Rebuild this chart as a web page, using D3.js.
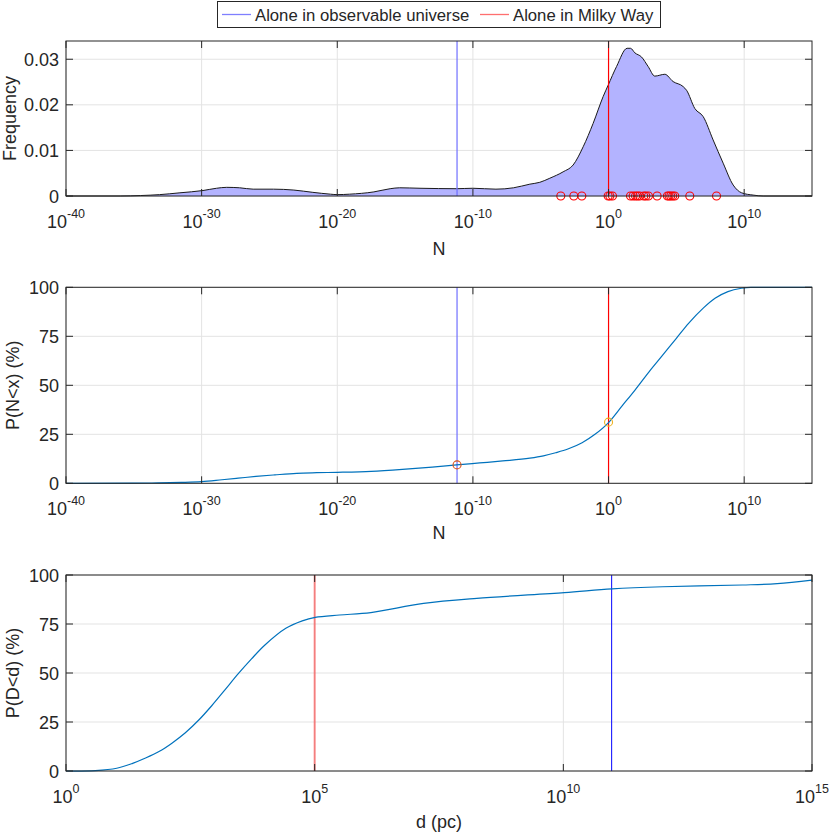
<!DOCTYPE html>
<html><head><meta charset="utf-8">
<script src="https://cdn.jsdelivr.net/npm/d3@7/dist/d3.min.js"></script>
<style>
html,body{margin:0;padding:0;background:#fff;}
text{font-family:"Liberation Sans",Arial,Helvetica,sans-serif;fill:#262626;}
</style></head><body>
<svg id="chart" width="830" height="834"></svg>
<script>
// ---------- DATA ----------
// Panel 1: frequency density of N (x as log10 N)
const densityLog10N = [-40,-36,-34.5,-33.1,-31.6,-29.9,-28.9,-28.15,-27.2,-26.2,-24.7,-23.2,-21.8,-20.5,-20.0,-19.1,-17.3,-16.1,-15.4,-13.9,-11.2,-10.0,-8.3,-7.0,-5.8,-5.07,-4.33,-3.35,-2.61,-1.87,-1.14,-0.40,-0.03,0.59,1.37,1.62,1.94,2.43,2.92,3.41,4.15,4.76,5.50,5.75,6.36,6.98,7.71,8.45,9.19,9.81,10.66,11.4,15];
const densityFreq    = [0,0,0.0001,0.0003,0.0007,0.0012,0.0017,0.0019,0.0018,0.0015,0.0015,0.0013,0.0008,0.0004,0.0003,0.0004,0.0009,0.0016,0.0018,0.0017,0.0016,0.0017,0.0015,0.0018,0.0026,0.0030,0.0039,0.0053,0.0068,0.0108,0.0159,0.0218,0.0243,0.0284,0.0324,0.0324,0.0314,0.0305,0.0284,0.0263,0.0267,0.0251,0.0240,0.0232,0.0192,0.0174,0.0123,0.0072,0.0024,0.0007,0.0002,0,0];
// literature estimates (red circles, log10 N)
const estimatesLog10N = [-3.52,-2.56,-1.97,-0.03,0.10,0.29,1.62,1.81,1.99,2.14,2.30,2.60,2.75,2.94,3.58,4.34,4.46,4.59,4.73,4.88,5.99,7.96];
// Panel 2: CDF of N
const cdfNLog10 = [-40,-35,-33.2,-31.5,-30.0,-28.5,-27.3,-26,-24.6,-23.0,-21.5,-20.0,-17.5,-15.2,-13,-11.2,-9.5,-7.8,-5.8,-4.8,-3.9,-3,-1.95,-1,0,1,1.95,3,3.9,5,5.9,7,7.85,8.8,9.8,10.5,15];
const cdfNPct   = [0,0.05,0.2,0.45,0.85,1.8,2.6,3.5,4.3,5.1,5.4,5.6,6.1,7.1,8.3,9.4,10.4,11.4,12.8,14,15.6,17.5,20.7,25,31,39.5,47.6,57,64.6,74,81.6,89.5,94.4,97.8,99.5,100,100];
// Panel 3: CDF of distance d (pc)
const cdfDLog10 = [0,0.59,1.02,1.34,1.6,1.87,2.13,2.4,2.67,2.93,3.2,3.46,3.73,4.0,4.42,4.75,5.01,5.5,6.13,7.19,8.26,10.02,10.98,12,13.6,14.3,15];
const cdfDPct   = [0,0.2,1.4,3.9,6.6,9.9,14.2,19.5,26,33.3,41.5,49.5,57.2,64.3,72.8,76.6,78.4,79.6,80.8,85.5,88.1,91,92.9,94,94.9,95.6,97.4];
// thresholds
const aloneUniverseLog10N = -11.17, aloneMilkyWayLog10N = 0;
const pAloneUniverse = 9.4, pAloneMilkyWay = 31.2;
const milkyWayLog10d = 5, universeLog10d = 10.97;
// ticks
const nTicksLog10 = [-40,-30,-20,-10,0,10];
const dTicksLog10 = [0,5,10,15];
const freqTicks = [0,0.01,0.02,0.03];
const pctTicks = [0,25,50,75,100];
const legendLabels = ["Alone in observable universe","Alone in Milky Way"];

// ---------- DRAW ----------
const svg = d3.select("#chart");
const L = 66, R = 812;
const axisCol = "#262626", gridCol = "#e3e3e3", FS = 18, FSUP = 12.5, FLEG = 16.7;
const p10 = v => Math.pow(10, v);
const smooth = d3.curveCatmullRom.alpha(0.5);

function panel(top, bottom, xDom, yDom, xTicks, yTicks, yFmt, xLabel, yLabel){
  const x = d3.scaleLog().domain(xDom).range([L, R]);
  const y = d3.scaleLinear().domain(yDom).range([bottom, top]);
  const g = svg.append("g");
  const grid = g.append("g");
  xTicks.forEach(t => grid.append("line").attr("x1", x(p10(t))).attr("x2", x(p10(t)))
    .attr("y1", top).attr("y2", bottom).attr("stroke", gridCol).attr("stroke-width", 1));
  yTicks.forEach(t => grid.append("line").attr("x1", L).attr("x2", R)
    .attr("y1", y(t)).attr("y2", y(t)).attr("stroke", gridCol).attr("stroke-width", 1));
  const content = g.append("g");
  const frame = g.append("g");
  frame.append("rect").attr("x", L).attr("y", top).attr("width", R-L).attr("height", bottom-top)
    .attr("fill", "none").attr("stroke", axisCol).attr("stroke-width", 1);
  xTicks.forEach(t => {
    const xx = x(p10(t));
    frame.append("line").attr("x1", xx).attr("x2", xx).attr("y1", bottom).attr("y2", bottom-7).attr("stroke", axisCol);
    frame.append("line").attr("x1", xx).attr("x2", xx).attr("y1", top).attr("y2", top+7).attr("stroke", axisCol);
    const tx = frame.append("text").attr("x", xx).attr("y", bottom+32).attr("text-anchor", "middle").attr("font-size", FS);
    tx.append("tspan").text("10");
    tx.append("tspan").attr("dy", -10).attr("font-size", FSUP).text(String(t));
  });
  yTicks.forEach(t => {
    const yy = y(t);
    frame.append("line").attr("x1", L).attr("x2", L+7).attr("y1", yy).attr("y2", yy).attr("stroke", axisCol);
    frame.append("line").attr("x1", R).attr("x2", R-7).attr("y1", yy).attr("y2", yy).attr("stroke", axisCol);
    frame.append("text").attr("x", L-7).attr("y", yy+6.5).attr("text-anchor", "end").attr("font-size", FS).text(yFmt(t));
  });
  frame.append("text").attr("x", (L+R)/2).attr("y", bottom+xLabel.dy).attr("text-anchor", "middle").attr("font-size", FS).text(xLabel.text);
  frame.append("text").attr("transform", `translate(${yLabel.x},${(top+bottom)/2}) rotate(-90)`)
    .attr("text-anchor", "middle").attr("font-size", FS).text(yLabel.text);
  return {x, y, content, top, bottom};
}

// Panel 1
const P1 = panel(41, 196, [1e-40, 1e15], [0, 0.034], nTicksLog10, freqTicks, d => d === 0 ? "0" : d3.format(".2f")(d), {text:"N", dy:59}, {x:15.5, text:"Frequency"});
const dens = densityLog10N.map((v, i) => ({x: p10(v), y: densityFreq[i]}));
P1.content.append("path").datum(dens)
  .attr("d", d3.area().x(d => P1.x(d.x)).y0(P1.y(0)).y1(d => P1.y(d.y)).curve(d3.curveMonotoneX))
  .attr("fill", "#b3b3ff");
P1.content.append("path").datum(dens)
  .attr("d", d3.line().x(d => P1.x(d.x)).y(d => P1.y(d.y)).curve(d3.curveMonotoneX))
  .attr("fill", "none").attr("stroke", "#1a1a1a").attr("stroke-width", 1);
P1.content.append("line").attr("x1", P1.x(p10(aloneUniverseLog10N))).attr("x2", P1.x(p10(aloneUniverseLog10N)))
  .attr("y1", P1.top).attr("y2", P1.bottom).attr("stroke", "#6f6fff").attr("stroke-width", 1.2);
P1.content.append("line").attr("x1", P1.x(p10(aloneMilkyWayLog10N))).attr("x2", P1.x(p10(aloneMilkyWayLog10N)))
  .attr("y1", P1.top).attr("y2", P1.bottom).attr("stroke", "#ff0000").attr("stroke-width", 1.2);
P1.content.selectAll("circle.est").data(estimatesLog10N).enter().append("circle")
  .attr("cx", d => P1.x(p10(d))).attr("cy", P1.y(0)).attr("r", 4)
  .attr("fill", "none").attr("stroke", "#ff0000").attr("stroke-width", 1.1);

// Panel 2
const P2 = panel(287.3, 483.3, [1e-40, 1e15], [0, 100], nTicksLog10, pctTicks, d => String(d), {text:"N", dy:56}, {x:19, text:"P(N<x) (%)"});
P2.content.append("line").attr("x1", P2.x(p10(aloneUniverseLog10N))).attr("x2", P2.x(p10(aloneUniverseLog10N)))
  .attr("y1", P2.top).attr("y2", P2.bottom).attr("stroke", "#6f6fff").attr("stroke-width", 1.2);
P2.content.append("line").attr("x1", P2.x(p10(aloneMilkyWayLog10N))).attr("x2", P2.x(p10(aloneMilkyWayLog10N)))
  .attr("y1", P2.top).attr("y2", P2.bottom).attr("stroke", "#ff0000").attr("stroke-width", 1.2);
const cdfN = cdfNLog10.map((v, i) => ({x: p10(v), y: cdfNPct[i]}));
P2.content.append("path").datum(cdfN)
  .attr("d", d3.line().x(d => P2.x(d.x)).y(d => P2.y(d.y)).curve(d3.curveMonotoneX))
  .attr("fill", "none").attr("stroke", "#0072BD").attr("stroke-width", 1.2);
P2.content.append("circle").attr("cx", P2.x(p10(aloneUniverseLog10N))).attr("cy", P2.y(pAloneUniverse)).attr("r", 4)
  .attr("fill", "none").attr("stroke", "#D95319").attr("stroke-width", 1.1);
P2.content.append("circle").attr("cx", P2.x(p10(aloneMilkyWayLog10N))).attr("cy", P2.y(pAloneMilkyWay)).attr("r", 4)
  .attr("fill", "none").attr("stroke", "#EDB120").attr("stroke-width", 1.1);

// Panel 3
const P3 = panel(575, 771, [1, 1e15], [0, 100], dTicksLog10, pctTicks, d => String(d), {text:"d (pc)", dy:57}, {x:19, text:"P(D<d) (%)"});
P3.content.append("line").attr("x1", P3.x(p10(milkyWayLog10d))).attr("x2", P3.x(p10(milkyWayLog10d)))
  .attr("y1", P3.top).attr("y2", P3.bottom).attr("stroke", "rgba(255,0,0,0.45)").attr("stroke-width", 2);
P3.content.append("line").attr("x1", P3.x(p10(universeLog10d))).attr("x2", P3.x(p10(universeLog10d)))
  .attr("y1", P3.top).attr("y2", P3.bottom).attr("stroke", "#2828ff").attr("stroke-width", 1.2);
const cdfD = cdfDLog10.map((v, i) => ({x: p10(v), y: cdfDPct[i]}));
P3.content.append("path").datum(cdfD)
  .attr("d", d3.line().x(d => P3.x(d.x)).y(d => P3.y(d.y)).curve(smooth))
  .attr("fill", "none").attr("stroke", "#0072BD").attr("stroke-width", 1.2);

// Legend
const lg = svg.append("g");
lg.append("rect").attr("x", 217.5).attr("y", 1.5).attr("width", 443).attr("height", 26)
  .attr("fill", "#fff").attr("stroke", "#262626").attr("stroke-width", 1);
const legendItems = [{lx: 222, tx: 255, col: "#7f7fff"}, {lx: 480, tx: 513, col: "#ff6f6f"}];
legendItems.forEach((it, i) => {
  lg.append("line").attr("x1", it.lx).attr("x2", it.lx+29).attr("y1", 14.5).attr("y2", 14.5)
    .attr("stroke", it.col).attr("stroke-width", 1.3);
  lg.append("text").attr("x", it.tx).attr("y", 20.5).attr("font-size", FLEG).text(legendLabels[i]);
});
</script>
</body></html>
